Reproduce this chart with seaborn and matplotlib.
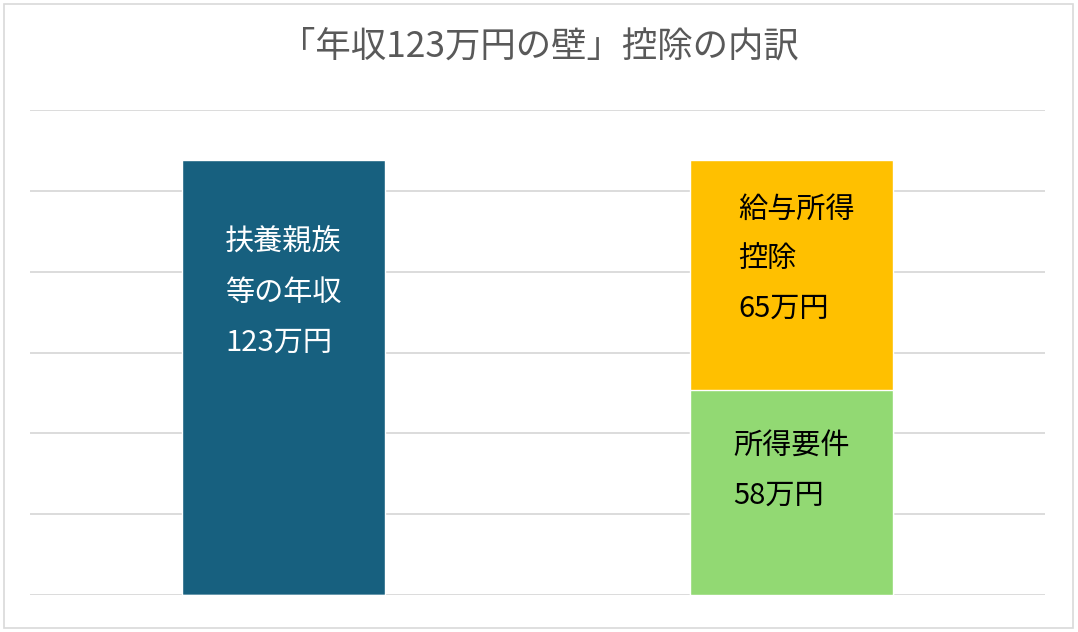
import seaborn as sns
import matplotlib.pyplot as plt
import matplotlib.patches as patches
import pandas as pd
import numpy as np

# Données du graphique
bar_names = ["年収", "控除"]
wall_total = [123, 0]          # 扶養親族等の年収
salary_deduction = [0, 65]     # 給与所得控除
income_requirement = [0, 58]   # 所得要件

title = "「年収123万円の壁」控除の内訳"
label_wall = "扶養親族\n等の年収\n123万円"
label_salary = "給与所得\n控除\n65万円"
label_income = "所得要件\n58万円"

sns.set_theme(style="white")
plt.rcParams['font.family'] = ['Noto Sans CJK JP', 'DejaVu Sans']

fig = plt.figure(figsize=(10.78, 6.32), dpi=100)
ax = fig.add_axes([30 / 1078, 1 - 595 / 632, 1015 / 1078, 485 / 632])

blue = "#17607f"
orange = "#ffc000"
green = "#92d973"

totals = [a + b + c for a, b, c in zip(wall_total, salary_deduction, income_requirement)]
df_top = pd.DataFrame({"name": bar_names, "value": totals})
df_low = pd.DataFrame({"name": bar_names, "value": income_requirement})

sns.barplot(data=df_top, x="name", y="value", hue="name", palette=[blue, orange],
            width=0.4, legend=False, ax=ax, saturation=1, zorder=2)
sns.barplot(data=df_low, x="name", y="value", hue="name", palette=[green, green],
            width=0.4, legend=False, ax=ax, saturation=1, zorder=3)

ymax = 137.1
ax.set_xlim(-0.5, 1.5)
ax.set_ylim(0, ymax)
ax.set_yticks(np.linspace(0, ymax, 7))
ax.yaxis.grid(True, color="#d9d9d9", linewidth=1.3, zorder=0)
ax.set_axisbelow(True)
ax.tick_params(left=False, bottom=False, labelleft=False, labelbottom=False)
ax.set_xlabel("")
ax.set_ylabel("")
for s in ax.spines.values():
    s.set_visible(False)

# Étiquettes dans les barres
ax.text(-0.116, totals[0] - 19.3, label_wall, color="white", fontsize=21,
        va="top", ha="left", linespacing=1.85, zorder=5)
ax.text(1 - 0.105, totals[1] - 9.9, label_salary, color="black", fontsize=21,
        va="top", ha="left", linespacing=1.85, zorder=5)
ax.text(1 - 0.115, income_requirement[1] - 11.8, label_income, color="black", fontsize=21,
        va="top", ha="left", linespacing=1.85, zorder=5)

fig.text(0.5, 1 - 47 / 632, title, ha="center", va="center", fontsize=25.5, color="#595959")

fig.patches.append(patches.Rectangle((4 / 1078, 4 / 632), 1069 / 1078, 624 / 632,
                                     transform=fig.transFigure, fill=False,
                                     edgecolor="#d9d9d9", linewidth=1.2))

fig.savefig("out.png", dpi=100)
